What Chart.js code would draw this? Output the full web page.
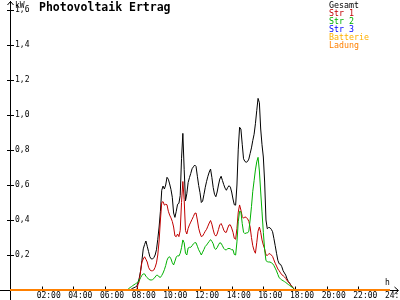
<!DOCTYPE html>
<html><head><meta charset="utf-8">
<script src="https://cdn.jsdelivr.net/npm/chart.js@4/dist/chart.umd.min.js"></script>
<style>html,body{margin:0;padding:0;background:#fff;overflow:hidden}canvas{display:block}</style>
</head><body>
<canvas id="c" width="400" height="300"></canvas>
<script>
// ---- data ----
const chartTitle = 'Photovoltaik Ertrag';
const yUnit = 'kW';
const xUnit = 'h';
const seriesNames = ['Gesamt', 'Str 1', 'Str 2', 'Str 3', 'Batterie', 'Ladung'];
const seriesColors = ['#000000', '#c00000', '#00b000', '#0000ff', '#ffb000', '#ff8000'];
const xTickStepHours = 2;
const yTickStep = 0.2;

// sample times: every 5 minutes from 07:20 to 18:00
const sampleStart = '07:20';
const sampleStepMinutes = 5;

const gesamt = [
  0, 0, 0, 0, 0.005, 0.01, 0.013, 0.017, 0.02,
  0.04, 0.07, 0.11, 0.17, 0.235, 0.26, 0.28, 0.25, 0.22, 0.19,
  0.178, 0.177, 0.185, 0.2, 0.23, 0.29, 0.36, 0.45, 0.57, 0.594,
  0.577, 0.6, 0.644, 0.633, 0.606, 0.574, 0.53, 0.44, 0.415, 0.45,
  0.49, 0.495, 0.54, 0.75, 0.895, 0.69, 0.51, 0.55, 0.614, 0.642,
  0.666, 0.693, 0.704, 0.714, 0.706, 0.65, 0.597, 0.556, 0.5, 0.508,
  0.546, 0.587, 0.621, 0.65, 0.674, 0.691, 0.643, 0.586, 0.547, 0.533,
  0.56, 0.6, 0.634, 0.65, 0.626, 0.602, 0.582, 0.57, 0.586, 0.596,
  0.588, 0.56, 0.52, 0.487, 0.485, 0.6, 0.805, 0.93, 0.92, 0.833,
  0.75, 0.735, 0.73, 0.734, 0.748, 0.78, 0.812, 0.854, 0.89, 0.95,
  1.025, 1.095, 1.07, 0.92, 0.83, 0.76, 0.617, 0.4, 0.35, 0.357,
  0.356, 0.347, 0.333, 0.295, 0.253, 0.21, 0.17, 0.15,
  0.147, 0.133, 0.11, 0.097, 0.085, 0.063, 0.048, 0.039, 0.026, 0.016, 0.008, 0
];
const str1 = [
  0, 0, 0, 0, 0, 0, 0, 0, 0,
  0.03, 0.05, 0.11, 0.16, 0.177, 0.19, 0.176, 0.16, 0.13, 0.115,
  0.11, 0.11, 0.114, 0.13, 0.155, 0.2, 0.28, 0.4, 0.5, 0.505,
  0.485, 0.49, 0.487, 0.45, 0.428, 0.412, 0.392, 0.36, 0.309, 0.305,
  0.32, 0.305, 0.34, 0.5, 0.62, 0.517, 0.34, 0.32, 0.352, 0.372,
  0.388, 0.404, 0.42, 0.438, 0.44, 0.4, 0.353, 0.325, 0.305, 0.309,
  0.322, 0.336, 0.347, 0.365, 0.383, 0.397, 0.376, 0.344, 0.317, 0.308,
  0.32, 0.346, 0.372, 0.38, 0.364, 0.342, 0.33, 0.33, 0.354, 0.372,
  0.372, 0.354, 0.33, 0.295, 0.29, 0.352, 0.445, 0.486, 0.457, 0.42,
  0.41, 0.418, 0.414, 0.408, 0.392, 0.36, 0.3, 0.253, 0.226, 0.21,
  0.27, 0.336, 0.36, 0.33, 0.286, 0.257, 0.235, 0.2, 0.198, 0.205,
  0.208, 0.2, 0.192, 0.172, 0.153, 0.137, 0.12, 0.11,
  0.098, 0.087, 0.082, 0.075, 0.066, 0.053, 0.046, 0.036, 0.027, 0.018, 0.009, 0
];
const str2 = [
  0, 0.002, 0.008, 0.014, 0.019, 0.025, 0.03, 0.035, 0.04,
  0.046, 0.055, 0.071, 0.084, 0.092, 0.092, 0.079, 0.071, 0.062, 0.058,
  0.057, 0.059, 0.065, 0.074, 0.084, 0.084, 0.075, 0.072, 0.083, 0.097,
  0.116, 0.14, 0.17, 0.186, 0.19, 0.178, 0.156, 0.143, 0.165, 0.188,
  0.196, 0.194, 0.21, 0.242, 0.286, 0.27, 0.21, 0.2, 0.24, 0.244,
  0.244, 0.253, 0.264, 0.27, 0.27, 0.25, 0.23, 0.216, 0.2, 0.216,
  0.232, 0.249, 0.257, 0.268, 0.278, 0.288, 0.278, 0.264, 0.238, 0.232,
  0.242, 0.258, 0.27, 0.267, 0.253, 0.238, 0.23, 0.23, 0.236, 0.238,
  0.235, 0.23, 0.23, 0.203, 0.2, 0.275, 0.39, 0.45, 0.447, 0.38,
  0.33, 0.322, 0.326, 0.326, 0.336, 0.4, 0.476, 0.564, 0.625, 0.686,
  0.732, 0.758, 0.68, 0.56, 0.446, 0.33, 0.23, 0.168, 0.162, 0.16,
  0.16, 0.156, 0.151, 0.14, 0.125, 0.109, 0.089, 0.07,
  0.064, 0.057, 0.053, 0.048, 0.043, 0.037, 0.031, 0.026, 0.02, 0.015, 0.007, 0
];
// series that stay at zero all day
const fullDayTimes = ['00:00', '24:00'];
const str3 = [0, 0];
const batterie = [0, 0];
const ladung = [0, 0];

// ---- helpers ----
function toHours(s) { const [h, m] = s.split(':').map(Number); return h + m / 60; }
const sampleTimes = gesamt.map((_, i) => toHours(sampleStart) + i * sampleStepMinutes / 60);
const fullDayHours = fullDayTimes.map(toHours);
const pts = (times, vals) => vals.map((v, i) => ({ x: times[i], y: v }));

const MONO = '"DejaVu Sans Mono", "Liberation Mono", monospace';

const seriesData = [
  pts(sampleTimes, gesamt),
  pts(sampleTimes, str1),
  pts(sampleTimes, str2),
  pts(fullDayHours, str3),
  pts(fullDayHours, batterie),
  pts(fullDayHours, ladung)
];
const drawOrder = [5, 4, 3, 2, 1, 0];
const widths = [1, 1, 1, 1, 1, 2];

const decoPlugin = {
  id: 'deco',
  beforeDatasetsDraw(chart) {
    const { ctx, scales: { x, y } } = chart;
    const ax = Math.round(x.getPixelForValue(0)) + 0.5;
    const ay = Math.round(y.getPixelForValue(0)) + 0.5;
    ctx.save();
    ctx.strokeStyle = '#000';
    ctx.lineWidth = 1;
    ctx.beginPath();
    ctx.moveTo(ax, 1); ctx.lineTo(ax, 300);
    ctx.moveTo(0, ay); ctx.lineTo(398, ay);
    ctx.moveTo(ax - 3, 5); ctx.lineTo(ax, 1.5); ctx.lineTo(ax + 3, 5);
    ctx.moveTo(394.5, ay - 3.5); ctx.lineTo(398.5, ay); ctx.lineTo(394.5, ay + 3.5);
    y.ticks.forEach(t => {
      const py = Math.round(y.getPixelForValue(t.value)) + 0.5;
      ctx.moveTo(ax - 3.5, py); ctx.lineTo(ax + 3.5, py);
    });
    x.ticks.forEach(t => {
      if (t.value <= 0 || t.value >= 24) return;
      const px = Math.round(x.getPixelForValue(t.value)) + 0.5;
      ctx.moveTo(px, ay - 4); ctx.lineTo(px, ay + 1);
    });
    ctx.stroke();

    ctx.fillStyle = '#000';
    ctx.textAlign = 'left';
    ctx.textBaseline = 'alphabetic';
    ctx.font = '8px ' + MONO;
    ctx.fillText(yUnit, ax + 4.5, 8);
    ctx.fillText(xUnit, 385, 285);
    ctx.font = 'bold 11.5px ' + MONO;
    ctx.fillText(chartTitle, 39, 11);

    ctx.font = '8.3px ' + MONO;
    chart.data.datasets.forEach((ds, i) => {
      ctx.fillStyle = ds.borderColor;
      ctx.fillText(ds.label, 329, 8 + i * 8);
    });
    ctx.restore();
  }
};

new Chart(document.getElementById('c'), {
  type: 'line',
  data: {
    datasets: seriesNames.map((name, i) => ({
      label: name,
      data: seriesData[i],
      borderColor: seriesColors[i],
      backgroundColor: seriesColors[i],
      borderWidth: widths[i],
      pointRadius: 0,
      tension: 0,
      fill: false,
      clip: false,
      order: drawOrder[i]
    }))
  },
  options: {
    responsive: false,
    animation: false,
    devicePixelRatio: 1,
    layout: { padding: { left: 0, right: 10, top: 10, bottom: 0 } },
    plugins: { legend: { display: false }, tooltip: { enabled: false }, title: { display: false } },
    scales: {
      x: {
        type: 'linear', min: 0, max: 24,
        grid: { display: false, drawTicks: false },
        border: { display: false },
        ticks: {
          stepSize: xTickStepHours, autoSkip: false, maxRotation: 0, padding: 1, labelOffset: 7,
          color: '#000', font: { family: MONO, size: 8 },
          callback: v => v === 0 ? '' : String(v).padStart(2, '0') + ':00'
        },
        afterFit: s => { s.height = 10; s.paddingLeft = 0; s.paddingRight = 0; }
      },
      y: {
        min: 0, max: 1.6,
        grid: { display: false, drawTicks: false },
        border: { display: false },
        ticks: {
          stepSize: yTickStep, mirror: true, padding: 5,
          color: '#000', font: { family: MONO, size: 8 },
          callback: v => v === 0 ? '' : v.toFixed(1).replace('.', ',')
        },
        afterFit: s => { s.width = 10; s.paddingTop = 0; s.paddingBottom = 0; }
      }
    }
  },
  plugins: [decoPlugin]
});
</script>
</body></html>
